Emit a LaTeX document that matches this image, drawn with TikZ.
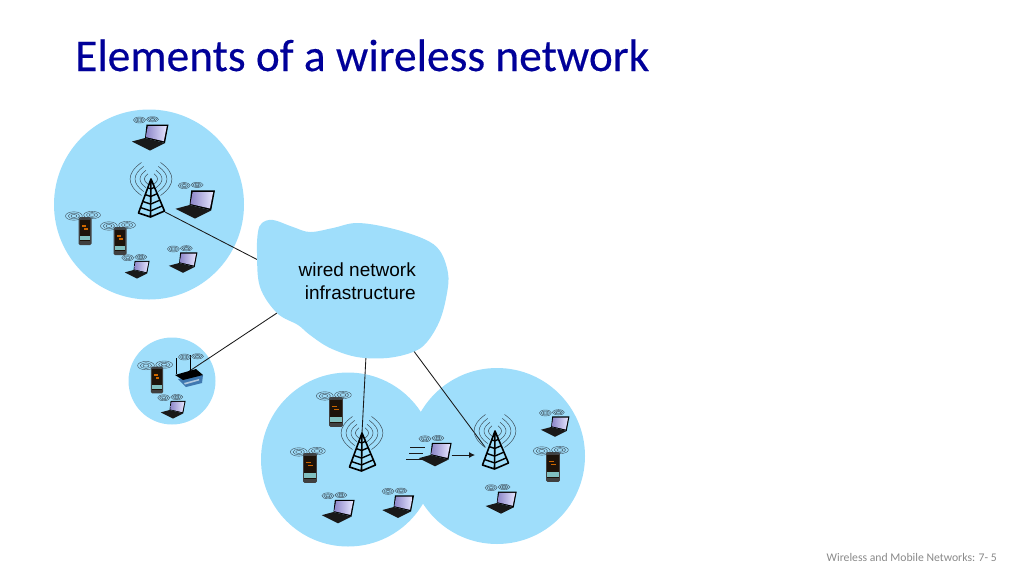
\documentclass[tikz,border=0pt]{standalone}
\usepackage{fontspec}
\setmainfont{Carlito}
\newfontfamily\arialfont{Liberation Sans}
\newfontfamily\titlefont[FakeBold=0.3]{Carlito}
\usetikzlibrary{arrows.meta}

\definecolor{cellblue}{HTML}{9FDEFB}
\definecolor{titleblue}{HTML}{000099}
\definecolor{footgray}{HTML}{898989}
\definecolor{wavegray}{HTML}{3F4F5A}
\definecolor{screenlav}{HTML}{8C86C8}
\definecolor{rtrblue}{HTML}{3F78B0}

\tikzset{
    wavy/.style = {draw=wavegray, line width=0.4pt},
    link/.style = {draw=black!90, line width=0.85pt},
 devbox/.style = {inner sep=0pt, outer sep=0pt, minimum height=30pt},
  pics/wave/.style = {code={% two swirls over a device
        \foreach \r in {1,.68,.36} {
            \draw[wavy] (-6.5,0) ellipse[x radius=6*\r, y radius=3*\r];
            \draw[wavy] (6.5,-.7) ellipse[x radius=6*\r, y radius=2.6*\r];
        }
    }},
  pics/laptop/.style = {code={
        \fill[black] (-3.5,-13.5) -- (18.5,-13.5) -- (15,5) -- (-5,0) -- cycle;
        \shade[left color=screenlav, middle color=white, right color=white!90!blue]
            (-2.2,-12) -- (16.8,-12) -- (13.8,3.2) -- (-4.2,-.9) -- cycle;
        \fill[black!90] (-18,3.5) -- (-5,0) -- (15,5) -- (0,12.5) -- cycle;
        \pic at (-4,-18) {wave};
    }},
  pics/phone/.style = {code={
        \fill[rounded corners=1.5pt, black!75] (-6.5,-14) rectangle (6.5,14);
        \fill[black!85!brown] (-5.2,-11) rectangle (5.2,10);
        \fill[orange!80!black] (-3.5,-6) rectangle (1,-4.5);
        \fill[orange!80!black] (-1.5,-3) rectangle (2.5,-1.5);
        \fill[teal!50!white] (-5.2,5) rectangle (5.2,9);
        \pic[scale=1.4] at (-2,-15) {wave};
    }},
  pics/tower/.style = {code={
        \foreach \r in {6,10,14.5,19} {
            \draw[wavy, line width=.5pt] (-.5*\r,-19-.87*\r)
                .. controls (-1.3*\r,-19-.3*\r) and (-1.3*\r,-19+.3*\r) .. (-.5*\r,-19+.87*\r);
            \draw[wavy, line width=.5pt] (.5*\r,-19-.87*\r)
                .. controls (1.3*\r,-19-.3*\r) and (1.3*\r,-19+.3*\r) .. (.5*\r,-19+.87*\r);
        }
        \draw[line width=1.6pt, line join=round]
            (-12.5,15) -- (0,-19) -- (13.5,13) -- (-.5,19) -- cycle
            (0,-19) -- (-.5,19);
        \foreach \t in {.26,.46,.66,.84} {
            \draw[line width=1.4pt, line join=round]
                (-12.5*\t,-19+34*\t) -- (-.5*\t,-19+38*\t) -- (13.5*\t,-19+32*\t);
        }
    }},
  pics/router/.style = {code={
        \draw[line width=1.1pt] (-11.3,-3) -- (-11.3,-19) (2.7,-5) -- (2.7,-22);
        \fill[rtrblue] (-10,2) -- (15,-2) -- (14,6) -- (-2,10) -- cycle;
        \fill[white!60!rtrblue] (-4,6) -- (11,2) -- (11,3.5) -- (-3,7.5) -- cycle;
        \fill[black] (-13,-2) -- (8,-8) -- (15,-2) -- (-5,3) -- cycle;
        \pic at (3,-20) {wave};
    }},
}

\begin{document}
\begin{tikzpicture}[x=1pt, y=-1pt,
    cell/.style = {circle, fill=cellblue, inner sep=0pt, outer sep=0pt},
                   ]
\useasboundingbox (0,0) rectangle (1024,576);
\node[anchor=base west, inner sep=0pt, text=titleblue, font=\titlefont\fontsize{45.4}{50}\selectfont]
    (title) at (75,71) {Elements of a wireless network};
\node[anchor=base east, inner sep=0pt, text=footgray, font=\fontsize{11.7}{14}\selectfont]
    (foot) at (997,561) {Wireless and Mobile Networks: 7- 5};
% coverage areas
\foreach \n/\x/\y/\d in {A/149/204.5/190, B/172/381/87, C/348/459.5/174, D/497/456/176}
    \node[cell, minimum size=\d] (cell\n) at (\x,\y) {};
% towers
\foreach \n/\x/\y in {A/151/198, B/362/452, C/495/450}
    \node[devbox, minimum width=40, minimum height=38] (tow\n) at (\x,\y) {};
\node[devbox, minimum width=28] (rtr) at (188,377) {};
% line ends
\coordinate (cloudA) at (258,260);
\coordinate (cloudB) at (277,313);
\coordinate (cloudC) at (366,356);
\coordinate (cloudD) at (413,350);
\coordinate (footA) at (165,212);
\coordinate (footC) at (485,447);
\coordinate (rtrtop) at (188,372);
\draw[link] (footA) -- (cloudA);
\draw[link] (rtrtop) -- (cloudB);
\draw[link] (towB.north) -- (cloudC);
\draw[link] (footC) -- (cloudD);
% wired part
\fill[cellblue] plot[smooth cycle, tension=.6] coordinates {
    (262,223) (273,220) (293,227) (310,232) (333,228) (357,223) (390,228) (424,239)
    (440,251) (448,273) (447,293) (440,320) (427,342) (413,352) (387,358) (357,357) (330,348)
    (310,335) (298,325) (277,313) (260,287) (257,253) (258,232)};
\node[anchor=east, align=right, inner sep=0pt, font=\arialfont\fontsize{19}{23}\selectfont]
    (wired) at (416,281) {wired network\\infrastructure};
% devices
\foreach \n in {A,B,C} \pic at (tow\n) {tower};
\pic at (rtr) {router};
\foreach \n/\x/\y/\s in {A/150/138/1, B/195/205/1.08, C/137/270/.68, D/183/263/.78,
                         E/173/410/.68, F/338/512/.9, G/398/507/.87, H/435/455/.9,
                         I/501/503/.85, J/555/427/.78} {
    \node[devbox, minimum width=37*\s] (lap\n) at (\x,\y) {};
    \pic[scale=\s] at (lap\n) {laptop};
}
\foreach \n/\x/\y/\s in {A/85/231/1, B/120/241/1, C/157/380/.96,
                         D/336/412/1.07, E/310/468/1.07, F/553/467/1.07} {
    \node[devbox, minimum width=13*\s] (fon\n) at (\x,\y) {};
    \pic[scale=\s] at (fon\n) {phone};
}
% handoff
\coordinate (motA) at (410,447);
\coordinate (motB) at (425,447);
\coordinate (motC) at (409,453);
\coordinate (motD) at (423,453);
\coordinate (motE) at (406,459);
\coordinate (motF) at (422,459);
\draw[link] (motA) -- (motB);
\draw[link] (motC) -- (motD);
\draw[link] (motE) -- (motF);
\draw[link, -{Latex[length=6pt,width=6pt]}] (lapH.east) -- (lapH.east -| towC.west);
\end{tikzpicture}
\end{document}
